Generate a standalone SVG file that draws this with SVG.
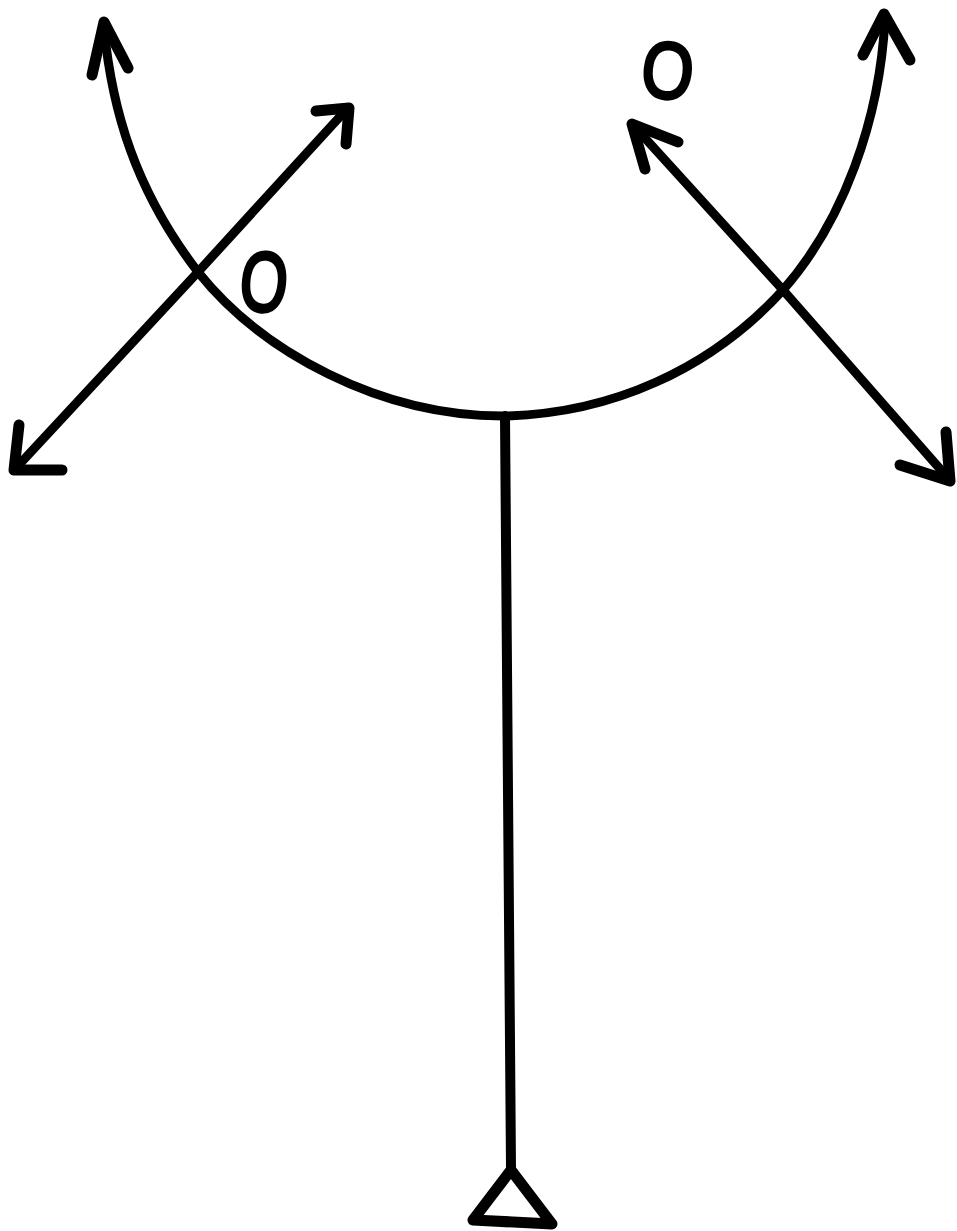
<svg xmlns="http://www.w3.org/2000/svg" width="957" height="1231" viewBox="0 0 957 1231">
<style>
.l{fill:none;stroke:#000;stroke-linecap:round;stroke-linejoin:round}
.h{stroke-width:11}
.t{font-family:"Liberation Sans",Arial,sans-serif;font-weight:400;font-size:78px;fill:#000;stroke:#000;stroke-width:3.5px;text-anchor:middle}
</style>
<rect width="957" height="1231" fill="#fff"/>
<g id="connectors">
<path id="arc" class="l" stroke-width="9" d="M104 28C112 110 135 190 198 272C262 352 380 416 503 416C610 414 710 370 783 290C843 222 880 120 885 18"/>
<path class="l h" d="M92 75L104 22L128 68"/>
<path class="l h" d="M863 55L884 14L910 60"/>
<path class="l" stroke-width="9" d="M16 468L198 272L346 110"/>
<path class="l h" d="M316 111L349 108L346 144"/>
<path class="l h" d="M19 425L14 470L62 470"/>
<path class="l" stroke-width="9" d="M634 126L783 290L948 478"/>
<path class="l h" d="M678 142L632 124L645 169"/>
<path class="l h" d="M900 465L950 481L946 432"/>
<path class="l" stroke-width="10" d="M505 416L511 1168"/>
</g>
<g id="support"><path class="l h" d="M511 1170L473 1220L552 1224L511 1170"/></g>
<g id="label-left"><text class="t" transform="translate(261 311) rotate(6) scale(.78 1.08)">O</text></g>
<g id="label-right"><text class="t" transform="translate(665 98) rotate(6) scale(.85 1.02)">O</text></g>
</svg>
